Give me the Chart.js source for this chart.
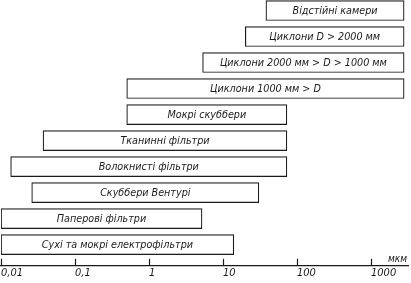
<!DOCTYPE html>
<html>
<head>
<meta charset="utf-8">
<script src="https://cdn.jsdelivr.net/npm/chart.js@4"></script>
<style>
  html, body { margin: 0; padding: 0; background: #fff; }
  canvas { display: block; }
</style>
</head>
<body>
<canvas id="dust_graph" width="411" height="283"></canvas>
<script>
// Particle size ranges (мкм) for dust collectors, top to bottom
var collectorNames = [
    'Відстійні камери',
    'Циклони D > 2000 мм',
    'Циклони 2000 мм > D > 1000 мм',
    'Циклони 1000 мм > D',
    'Мокрі скуббери',
    'Тканинні фільтри',
    'Волокнисті фільтри',
    'Скуббери Вентурі',
    'Паперові фільтри',
    'Сухі та мокрі електрофільтри'
];
var sizeFrom = [38, 20, 5.3, 0.5, 0.5, 0.037, 0.0135, 0.026, 0.01, 0.01];
var sizeTo   = [2800, 2800, 2800, 2800, 73, 73, 73, 30.5, 5.2, 14];

var tickValues = [0.01, 0.1, 1, 10, 100, 1000];
var tickLabels = ['0,01', '0,1', '1', '10', '100', '1000'];
var unitLabel = 'мкм';

var fontFamily = '"DejaVu Sans Condensed", "Liberation Sans Narrow", "DejaVu Sans", sans-serif';
var inkColor = '#1a1a1a';

// build the floating bar data from the arrays
var barData = collectorNames.map(function (name, i) {
    return { x: [sizeFrom[i], sizeTo[i]], y: i };
});

// labels inside bars, tick marks above the axis, unit text
var overlayPlugin = {
    id: 'overlay',
    afterDatasetsDraw: function (chart) {
        var ctx = chart.ctx;
        var xScale = chart.scales.x;
        var area = chart.chartArea;
        var meta = chart.getDatasetMeta(0);

        ctx.save();
        ctx.fillStyle = inkColor;
        ctx.font = 'italic 10.7px ' + fontFamily;
        ctx.textAlign = 'center';
        ctx.textBaseline = 'middle';
        meta.data.forEach(function (bar, i) {
            var cx = (bar.x + bar.base) / 2;
            ctx.fillText(collectorNames[i], cx, bar.y + 1);
        });

        // tick marks pointing up from the axis line
        ctx.strokeStyle = inkColor;
        ctx.lineWidth = 1.2;
        tickValues.forEach(function (v) {
            var px = Math.round(xScale.getPixelForValue(v)) + 0.5;
            ctx.beginPath();
            ctx.moveTo(px, area.bottom);
            ctx.lineTo(px, area.bottom - 7);
            ctx.stroke();
        });

        ctx.font = 'italic 10px ' + fontFamily;
        ctx.textAlign = 'right';
        ctx.textBaseline = 'alphabetic';
        ctx.fillText(unitLabel, area.right - 1, area.bottom - 4);
        ctx.restore();
    }
};

var dust_graph = new Chart(document.getElementById('dust_graph').getContext('2d'), {
    type: 'bar',
    data: {
        datasets: [{
            data: barData,
            backgroundColor: '#ffffff',
            borderColor: inkColor,
            borderWidth: 1.2,
            borderSkipped: false,
            barThickness: 20
        }]
    },
    options: {
        indexAxis: 'y',
        responsive: false,
        animation: false,
        layout: { padding: { left: 1, right: 3, top: 0, bottom: 2 } },
        plugins: {
            legend: { display: false },
            tooltip: { enabled: false }
        },
        scales: {
            x: {
                type: 'logarithmic',
                min: 0.01,
                max: 3160,
                afterBuildTicks: function (axis) {
                    axis.ticks = tickValues.map(function (v) { return { value: v }; });
                },
                grid: { display: false, drawTicks: false },
                border: { display: true, color: inkColor, width: 1.2 },
                ticks: {
                    autoSkip: false,
                    maxRotation: 0,
                    align: 'start',
                    padding: 1,
                    color: inkColor,
                    font: { family: fontFamily, size: 11, style: 'italic' },
                    callback: function (value, index) { return tickLabels[index]; }
                }
            },
            y: {
                type: 'linear',
                reverse: true,
                offset: false,
                min: -0.404,
                max: 9.815,
                display: false
            }
        }
    },
    plugins: [overlayPlugin]
});
</script>
</body>
</html>
